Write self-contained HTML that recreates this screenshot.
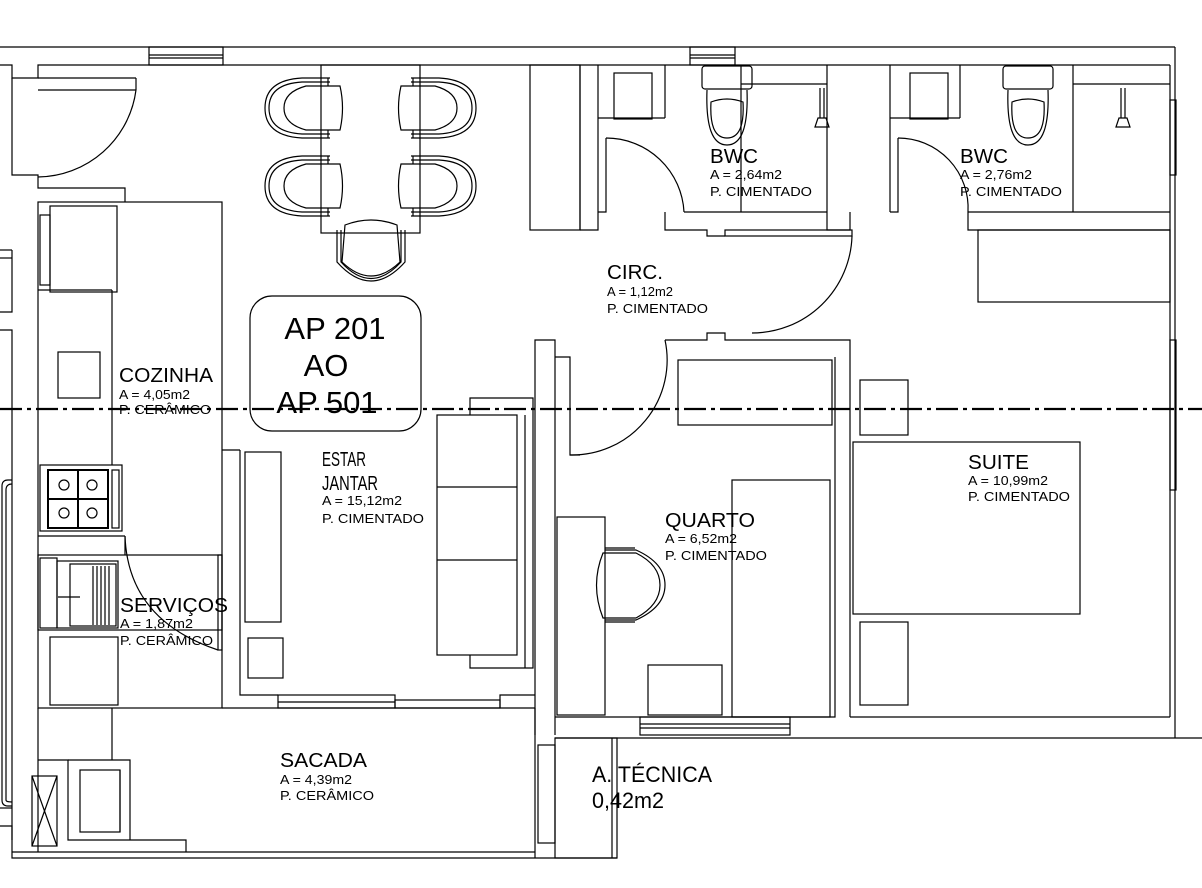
<!DOCTYPE html>
<html><head><meta charset="utf-8"><style>
html,body{margin:0;padding:0;background:#fff;width:1202px;height:888px;overflow:hidden}
svg{display:block}
text{font-family:"Liberation Sans",sans-serif;fill:#000}
</style></head><body>
<svg width="1202" height="888" viewBox="0 0 1202 888" xmlns="http://www.w3.org/2000/svg">
<defs>
<g id="ch" fill="none" stroke="#000" stroke-width="1.2">
<path d="M330,-30 L302,-30 Q265,-28 265,0 Q265,28 302,30 L330,30"/>
<path d="M330,-26 L302,-26 Q269,-24 269,0 Q269,24 302,26 L330,26"/>
<path d="M340,-22 Q345,0 340,22 L306,22 Q284,16 284,0 Q284,-16 306,-22 Z"/>
<line x1="328" y1="-30" x2="328" y2="-22"/><line x1="328" y1="22" x2="328" y2="30"/>
</g>
</defs>
<g fill="none" stroke="#000" stroke-width="1.2">
<line x1="0" y1="47" x2="1175" y2="47"/>
<polyline points="0,65 12,65 12,78 38,78 38,65 1170,65"/>
<rect x="149" y="47" width="74" height="18"/><line x1="149" y1="55" x2="223" y2="55"/><line x1="149" y1="58" x2="223" y2="58"/>
<rect x="690" y="47" width="45" height="18"/><line x1="690" y1="55" x2="735" y2="55"/><line x1="690" y1="58" x2="735" y2="58"/>
<line x1="1175" y1="47" x2="1175" y2="738"/>
<line x1="1170" y1="65" x2="1170" y2="717"/>
<rect x="1170" y="100" width="6" height="75"/>
<rect x="1170" y="340" width="6" height="150"/>
<polyline points="12,78 12,175 38,175 38,188 125,188 125,202"/>
<polyline points="38,78 136,78"/>
<line x1="38" y1="90" x2="136" y2="90"/>
<line x1="0" y1="250" x2="12" y2="250"/><line x1="0" y1="258" x2="12" y2="258"/>
<polyline points="0,312 12,312 12,250"/>
<polyline points="0,330 12,330 12,420"/>
<line x1="12" y1="420" x2="12" y2="840"/>
<path d="M12,480 L8,480 Q2,480 2,486 L2,800 Q2,806 8,806 L12,806"/>
<path d="M12,484 Q6,484 6,490 L6,800 Q6,802 12,802"/>
<line x1="0" y1="808" x2="12" y2="808"/>
<polyline points="0,826 12,826 12,858 617,858"/>
<line x1="136" y1="78" x2="136" y2="90"/>
<path d="M136,90 A100,100 0 0 1 38,177"/>
<rect x="38" y="202" width="184" height="506"/>
<line x1="112" y1="290" x2="112" y2="465"/>
<line x1="38" y1="290" x2="112" y2="290"/>
<rect x="50" y="206" width="67" height="86"/>
<rect x="40" y="215" width="10" height="70"/>
<rect x="58" y="352" width="42" height="46"/>
<rect x="40" y="465" width="82" height="66"/>
<rect x="48" y="470" width="60" height="58" stroke-width="2"/>
<line x1="78" y1="470" x2="78" y2="528" stroke-width="2"/><line x1="48" y1="499" x2="108" y2="499" stroke-width="2"/>
<circle cx="64" cy="485" r="5"/><circle cx="92" cy="485" r="5"/><circle cx="64" cy="513" r="5"/><circle cx="92" cy="513" r="5"/>
<rect x="112" y="470" width="7" height="58"/>
<line x1="38" y1="536" x2="125" y2="536"/><line x1="125" y1="536" x2="125" y2="555"/>
<rect x="38" y="555" width="184" height="75"/>
<rect x="40" y="558" width="17" height="70"/>
<rect x="57" y="561" width="61" height="67"/>
<rect x="70" y="564" width="46" height="62"/>
<line x1="93" y1="566" x2="93" y2="625"/><line x1="97" y1="566" x2="97" y2="625"/><line x1="101" y1="566" x2="101" y2="625"/><line x1="105" y1="566" x2="105" y2="625"/><line x1="109" y1="566" x2="109" y2="625"/>
<line x1="58" y1="597" x2="80" y2="597"/>
<rect x="50" y="637" width="68" height="68"/>
<rect x="218" y="555" width="4" height="95"/>
<path d="M125,536 Q128,620 218,650"/>
<line x1="222" y1="450" x2="240" y2="450"/>
<polyline points="240,450 240,695 278,695"/>
<rect x="245" y="452" width="36" height="170"/>
<rect x="248" y="638" width="35" height="40"/>
<rect x="278" y="695" width="117" height="13"/><line x1="278" y1="702" x2="395" y2="702"/>
<rect x="395" y="700" width="105" height="8"/>
<polyline points="500,708 500,695 535,695"/>
<line x1="222" y1="708" x2="535" y2="708"/>
<rect x="437" y="415" width="80" height="240"/>
<line x1="437" y1="487" x2="517" y2="487"/><line x1="437" y1="560" x2="517" y2="560"/>
<polyline points="470,655 470,668 533,668 533,398 470,398 470,415"/>
<line x1="525" y1="415" x2="525" y2="668"/>
<rect x="321" y="65" width="99" height="168"/>
<path d="M345,225 Q371,215 397,225 L400,262 Q371,290 342,262 Z"/>
<path d="M337,230 L337,262 Q371,300 405,262 L405,230"/>
<path d="M341,230 L341,262 Q371,295 401,262 L401,230"/>
<rect x="250" y="296" width="171" height="135" rx="22"/>
<rect x="530" y="65" width="50" height="165"/>
<line x1="580" y1="65" x2="580" y2="230"/>
<polyline points="580,230 598,230 598,65"/>
<polyline points="598,212 606,212 606,138"/>
<path d="M606,138 A78,78 0 0 1 684,212"/>
<line x1="598" y1="118" x2="665" y2="118"/>
<rect x="614" y="73" width="38" height="46"/>
<line x1="665" y1="65" x2="665" y2="118"/>
<line x1="684" y1="212" x2="827" y2="212"/>
<line x1="827" y1="65" x2="827" y2="212"/>
<line x1="741" y1="65" x2="741" y2="212"/>
<line x1="741" y1="84" x2="827" y2="84"/>
<rect x="702" y="66" width="50" height="23" rx="3"/>
<path d="M707,90 Q705,145 727,145 Q749,145 747,90"/>
<path d="M711,102 Q709,138 727,138 Q745,138 743,102 Q727,96 711,102 Z"/>
<line x1="820" y1="88" x2="820" y2="118"/><line x1="824" y1="88" x2="824" y2="118"/>
<path d="M815,127 L818,118 L826,118 L829,127 Z"/>
<polyline points="890,212 890,65"/>
<polyline points="890,212 898,212 898,138"/>
<path d="M898,138 A70,70 0 0 1 968,212"/>
<line x1="890" y1="118" x2="960" y2="118"/>
<rect x="910" y="73" width="38" height="46"/>
<line x1="960" y1="65" x2="960" y2="118"/>
<line x1="968" y1="212" x2="1170" y2="212"/>
<line x1="1073" y1="65" x2="1073" y2="212"/>
<line x1="1073" y1="84" x2="1170" y2="84"/>
<rect x="1003" y="66" width="50" height="23" rx="3"/>
<path d="M1008,90 Q1006,145 1028,145 Q1050,145 1048,90"/>
<path d="M1012,102 Q1010,138 1028,138 Q1046,138 1044,102 Q1028,96 1012,102 Z"/>
<line x1="1121" y1="88" x2="1121" y2="118"/><line x1="1125" y1="88" x2="1125" y2="118"/>
<path d="M1116,127 L1119,118 L1127,118 L1130,127 Z"/>
<polyline points="665,212 665,230 707,230 707,236 725,236"/>
<polyline points="827,212 827,230 850,230 850,212"/>
<rect x="725" y="230" width="127" height="6"/>
<path d="M852,236 A100,100 0 0 1 752,333"/>
<polyline points="968,212 968,230 1170,230"/>
<rect x="978" y="230" width="192" height="72"/>
<polyline points="535,735 535,340 555,340 555,735"/>
<polyline points="555,357 570,357 570,455 580,455"/>
<path d="M665,340 A95,95 0 0 1 570,455" />
<polyline points="665,340 707,340 707,333 725,333 725,340 850,340 850,717"/>
<polyline points="835,357 835,717 555,717"/>
<rect x="678" y="360" width="154" height="65"/>
<rect x="732" y="480" width="98" height="237"/>
<rect x="557" y="517" width="48" height="198"/>
<rect x="648" y="665" width="74" height="50"/>
<path d="M603,553 Q590,585 603,618 L636,618 Q660,605 660,585 Q660,565 636,553 Z"/>
<path d="M605,550 L636,550 Q665,563 665,585 Q665,607 636,620 L605,620"/>
<line x1="605" y1="548" x2="635" y2="548"/><line x1="605" y1="622" x2="635" y2="622"/>
<rect x="640" y="717" width="150" height="18"/><line x1="640" y1="724" x2="790" y2="724"/><line x1="640" y1="728" x2="790" y2="728"/>
<rect x="853" y="442" width="227" height="172"/>
<rect x="860" y="380" width="48" height="55"/>
<rect x="860" y="622" width="48" height="83"/>
<line x1="850" y1="717" x2="1170" y2="717"/>
<line x1="555" y1="738" x2="1202" y2="738"/>
<line x1="38" y1="708" x2="38" y2="852"/>
<line x1="112" y1="708" x2="112" y2="760"/>
<polyline points="38,760 68,760 68,840 186,840 186,852"/>
<polyline points="68,760 130,760 130,840"/>
<rect x="80" y="770" width="40" height="62"/><line x1="120" y1="770" x2="120" y2="832"/>
<rect x="32" y="776" width="25" height="70"/>
<line x1="32" y1="776" x2="57" y2="846"/><line x1="57" y1="776" x2="32" y2="846"/>
<line x1="186" y1="852" x2="535" y2="852"/>
<line x1="12" y1="852" x2="186" y2="852"/>
<polyline points="535,708 535,858"/>
<rect x="538" y="745" width="17" height="98"/>
<rect x="555" y="738" width="62" height="120"/>
<line x1="612" y1="738" x2="612" y2="858"/>
</g>
<use href="#ch" transform="translate(0,108)"/>
<use href="#ch" transform="translate(0,186)"/>
<use href="#ch" transform="translate(741,108) scale(-1,1)"/>
<use href="#ch" transform="translate(741,186) scale(-1,1)"/>
<line x1="0" y1="409" x2="1202" y2="409" stroke="#000" stroke-width="2.2" stroke-dasharray="22,5,4,5"/>
<g>
<text x="335" y="339" font-size="31" text-anchor="middle">AP 201</text>
<text x="326" y="376" font-size="31" text-anchor="middle">AO</text>
<text x="327" y="413" font-size="31" text-anchor="middle">AP 501</text>
<text x="119" y="382" font-size="20" textLength="94" lengthAdjust="spacingAndGlyphs">COZINHA</text>
<text x="119" y="399" font-size="13" textLength="71" lengthAdjust="spacingAndGlyphs">A = 4,05m2</text>
<text x="119" y="414" font-size="13" textLength="92" lengthAdjust="spacingAndGlyphs">P. CERÂMICO</text>
<text x="322" y="466" font-size="20" textLength="44" lengthAdjust="spacingAndGlyphs">ESTAR</text>
<text x="322" y="490" font-size="20" textLength="56" lengthAdjust="spacingAndGlyphs">JANTAR</text>
<text x="322" y="505" font-size="13" textLength="80" lengthAdjust="spacingAndGlyphs">A = 15,12m2</text>
<text x="322" y="523" font-size="13" textLength="102" lengthAdjust="spacingAndGlyphs">P. CIMENTADO</text>
<text x="120" y="612" font-size="20" textLength="108" lengthAdjust="spacingAndGlyphs">SERVIÇOS</text>
<text x="120" y="628" font-size="13" textLength="73" lengthAdjust="spacingAndGlyphs">A = 1,87m2</text>
<text x="120" y="645" font-size="13" textLength="93" lengthAdjust="spacingAndGlyphs">P. CERÂMICO</text>
<text x="280" y="767" font-size="20" textLength="87" lengthAdjust="spacingAndGlyphs">SACADA</text>
<text x="280" y="784" font-size="13" textLength="72" lengthAdjust="spacingAndGlyphs">A = 4,39m2</text>
<text x="280" y="800" font-size="13" textLength="94" lengthAdjust="spacingAndGlyphs">P. CERÂMICO</text>
<text x="592" y="782" font-size="22" textLength="120" lengthAdjust="spacingAndGlyphs">A. TÉCNICA</text>
<text x="592" y="808" font-size="22" textLength="72" lengthAdjust="spacingAndGlyphs">0,42m2</text>
<text x="607" y="279" font-size="20" textLength="56" lengthAdjust="spacingAndGlyphs">CIRC.</text>
<text x="607" y="296" font-size="13" textLength="66" lengthAdjust="spacingAndGlyphs">A = 1,12m2</text>
<text x="607" y="313" font-size="13" textLength="101" lengthAdjust="spacingAndGlyphs">P. CIMENTADO</text>
<text x="710" y="163" font-size="20" textLength="48" lengthAdjust="spacingAndGlyphs">BWC</text>
<text x="710" y="179" font-size="13" textLength="72" lengthAdjust="spacingAndGlyphs">A = 2,64m2</text>
<text x="710" y="196" font-size="13" textLength="102" lengthAdjust="spacingAndGlyphs">P. CIMENTADO</text>
<text x="960" y="163" font-size="20" textLength="48" lengthAdjust="spacingAndGlyphs">BWC</text>
<text x="960" y="179" font-size="13" textLength="72" lengthAdjust="spacingAndGlyphs">A = 2,76m2</text>
<text x="960" y="196" font-size="13" textLength="102" lengthAdjust="spacingAndGlyphs">P. CIMENTADO</text>
<text x="665" y="527" font-size="20" textLength="90" lengthAdjust="spacingAndGlyphs">QUARTO</text>
<text x="665" y="543" font-size="13" textLength="72" lengthAdjust="spacingAndGlyphs">A = 6,52m2</text>
<text x="665" y="560" font-size="13" textLength="102" lengthAdjust="spacingAndGlyphs">P. CIMENTADO</text>
<text x="968" y="469" font-size="20" textLength="61" lengthAdjust="spacingAndGlyphs">SUITE</text>
<text x="968" y="485" font-size="13" textLength="80" lengthAdjust="spacingAndGlyphs">A = 10,99m2</text>
<text x="968" y="501" font-size="13" textLength="102" lengthAdjust="spacingAndGlyphs">P. CIMENTADO</text>
</g>
</svg>
</body></html>
